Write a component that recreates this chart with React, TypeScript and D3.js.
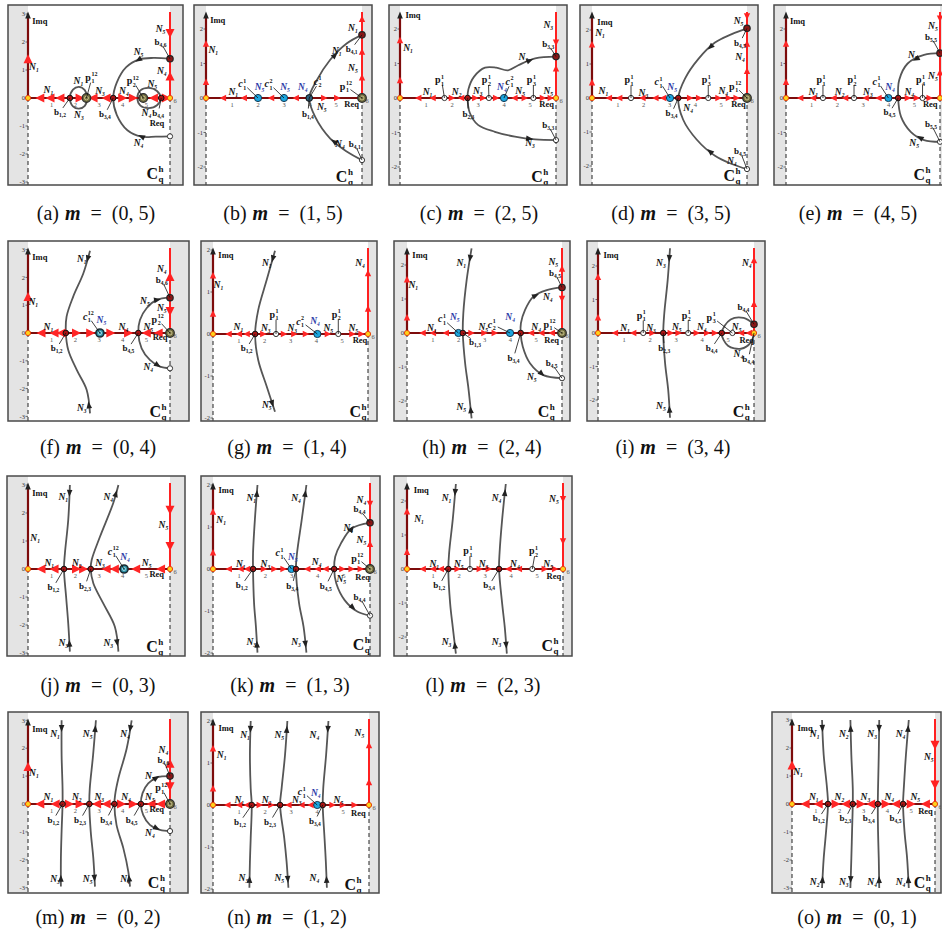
import React from 'react';
import * as d3 from 'd3';

type Pt = [number, number];
type Lab = (string | number)[];

// ---------- data (data coordinates: x = Re q, y = Im q) ----------
const CAPTION_LETTERS = ['(a)','(b)','(c)','(d)','(e)','(f)','(g)','(h)','(i)','(j)','(k)','(l)','(m)','(n)','(o)'];
const CAPTION_M1 = ['0','1','2','3','4','0','1','2','3','0','1','2','0','1','0'];
const CAPTION_M2 = ['5','5','5','5','5','4','4','4','4','3','3','3','2','2','1'];
const X_TICKS = [1, 2, 3, 4, 5];
const Y_TICKS_3 = [-3, -2, -1, 0, 1, 2, 3];
const Y_TICKS_2 = [-2, -1, 0, 1, 2];

// panel a
const A_im = [1.4];
const A_real: Pt[] = [[0.5,-1],[0.93,-1],[1.35,-1],[2.2,1],[2.75,-1],[3.3,-1],[4.0,1],[4.45,1],[5.3,-1],[5.85,1]];
const A_right: Pt[] = [[2.3,-1],[0.79,1]];
const A_curves: Pt[][] = [[[6,1.4],[5.3,1.43],[4.7,1.38],[4.15,1.1],[3.75,0.55],[3.6,0],[3.75,-0.6],[4.2,-1.15],[4.8,-1.38],[5.4,-1.38],[6,-1.37]]];
const A_loops: Pt[][] = [
  [[1.77,0],[1.9,0.3],[2.15,0.4],[2.4,0.28],[2.5,0],[2.4,-0.28],[2.15,-0.38],[1.9,-0.3]],
  [[4.62,0],[4.75,0.27],[5.1,0.36],[5.45,0.25],[5.6,0],[5.45,-0.26],[5.1,-0.36],[4.75,-0.27]],
];
const A_carrows: number[][] = [[0,0.2,1],[0,0.82,-1]];
const A_markers: Lab[] = [[0,0,'o'],[6,0,'o'],[1.77,0,'b'],[2.47,0,'pp'],[3.6,0,'b'],[4.87,0,'pp'],[5.63,0,'b'],[6,1.4,'bd'],[6,-1.37,'w']];
const A_labels: Lab[] = [
  [0.5,2.75,'Imq','','','T'],[0.25,1.1,'N','1','','N'],[0.86,0.28,'N','1','','N'],[1.35,-0.5,'b','1,2','','b',1.77,0],
  [2.13,0.62,'N','1','','N'],[2.15,-0.6,'N','3','','N'],[2.7,0.72,'p','1','12','p',2.47,0],[3.04,0.25,'N','3','','N'],
  [3.25,-0.58,'b','3,4','','b',3.6,0],[4.05,0.25,'N','4','','N'],[4.45,0.6,'p','2','12','p',4.87,0],[5.25,0.5,'N','5','','N'],
  [5.0,-0.55,'N','4','','N'],[5.5,-0.55,'b','4,4','','b',5.63,0],[5.45,-0.88,'Req','','','T'],[5.6,2.45,'N','5','','N'],
  [5.6,2.0,'b','4,6','','b',6,1.4],[5.65,0.97,'N','4','','N'],[4.67,1.65,'N','5','','N'],[4.67,-1.62,'N','4','','N'],
  [5.45,-2.7,'C','q','h','C'],
];

// panel b
const B_im = [0.47,1.58];
const B_real: Pt[] = [[0.65,-1],[1.45,-1],[2.5,-1],[3.45,-1],[4.55,1],[5.05,1]];
const B_right: Pt[] = [[2.3,1],[1.35,1],[0.6,1]];
const B_curves: Pt[][] = [[[6,1.83],[5.41,1.58],[4.77,1.1],[4.25,0.5],[3.97,0],[4.2,-0.55],[4.77,-1.17],[5.41,-1.55],[6,-1.8]]];
const B_carrows: number[][] = [[0,0.2,-1],[0,0.8,-1]];
const B_markers: Lab[] = [[0,0,'o'],[2,0,'c'],[3,0,'c'],[3.97,0,'cd'],[6,0,'pp'],[6,1.83,'bd'],[6,-1.8,'w']];
const B_labels: Lab[] = [
  [0.45,2.26,'Imq','','','T'],[0.28,1.39,'N','1','','N'],[1.05,0.16,'N','1','','N'],[1.45,0.4,'c','1','1','c',2,0],
  [2.06,0.31,'N','5','','NB'],[2.46,0.4,'c','1','2','c',3,0],[3.04,0.31,'N','5','','NB'],[3.72,0.31,'N','4','','NB'],
  [4.35,0.47,'c','2','1','c',3.97,0],[3.92,-0.45,'b','1,4','','b',3.97,0],[4.45,-0.25,'N','5','','N'],[5.03,1.36,'N','1','','N'],
  [5.15,-1.33,'N','4','','N'],[5.4,0.33,'p','1','12','p',6,0],[5.6,-0.17,'Req','','','T'],[5.65,2.02,'N','1','','N'],
  [5.6,1.43,'b','4,1','','b',6,1.83],[5.65,0.86,'N','5','','N'],[5.72,-1.33,'b','4,1','','b',6,-1.8],[5.4,-2.28,'C','q','h','C'],
];

// panel c
const C_im = [0.52,1.68];
const C_real: Pt[] = [[0.7,-1],[1.25,-1],[2.0,1],[2.35,-1],[2.9,1],[3.2,1],[3.7,1],[4.4,-1],[4.8,1],[5.5,1],[5.8,1]];
const C_right: Pt[] = [[1.6,-1],[0.86,1]];
const C_curves: Pt[][] = [[[6,1.2],[5.2,1.15],[4.55,0.95],[4.15,0.8],[3.7,0.88],[3.27,0.88],[2.85,0.62],[2.63,0.25],[2.6,0],[2.68,-0.42],[3.0,-0.78],[3.65,-0.98],[4.42,-1.12],[5.2,-1.2],[6,-1.22]]];
const C_carrows: number[][] = [[0,0.12,-1],[0,0.88,1]];
const C_markers: Lab[] = [[0,0,'o'],[1.71,0,'w'],[2.6,0,'b'],[3.42,0,'w'],[4.0,0,'c'],[5.13,0,'w'],[6,0,'o'],[6,1.2,'bd'],[6,-1.22,'w']];
const C_labels: Lab[] = [
  [0.5,2.4,'Imq','','','T'],[0.31,1.45,'N','1','','N'],[1.06,0.18,'N','1','','N'],[1.6,0.52,'p','1','1','p',1.71,0],
  [2.18,0.18,'N','2','','N'],[2.63,-0.45,'b','2,3','','b',2.6,0],[2.99,0.2,'N','3','','N'],[3.4,0.52,'p','2','1','p',3.42,0],
  [3.92,0.31,'N','4','','NB'],[4.27,0.47,'c','1','2','c',4.0,0],[4.62,0.2,'N','5','','N'],[5.13,0.52,'p','3','1','p',5.13,0],
  [5.7,0.2,'N','5','','N'],[5.64,-0.17,'Req','','','T'],[4.74,1.2,'N','3','','N'],[5.0,-1.3,'N','3','','N'],
  [5.7,2.12,'N','3','','N'],[5.7,1.56,'b','3,3','','b',6,1.2],[5.7,-0.78,'b','3,3','','b',6,-1.22],[5.45,-2.28,'C','q','h','C'],
];

// panel d
const D_im = [0.46,1.58];
const D_real: Pt[] = [[0.65,-1],[1.05,-1],[1.95,-1],[2.45,-1],[2.75,-1],[3.8,1],[4.15,1],[4.9,1],[5.3,1],[5.6,1]];
const D_right: Pt[] = [[2.4,-1],[1.6,1],[0.8,1]];
const D_curves: Pt[][] = [[[6,2.05],[5.41,1.88],[4.76,1.63],[4.12,1.15],[3.6,0.57],[3.34,0],[3.53,-0.64],[4.05,-1.22],[4.76,-1.7],[5.41,-1.94],[6,-2.09]]];
const D_carrows: number[][] = [[0,0.2,1],[0,0.8,-1]];
const D_markers: Lab[] = [[0,0,'o'],[1.51,0,'w'],[3.02,0,'c'],[3.34,0,'b'],[4.5,0,'w'],[6,0,'pp'],[6,2.05,'bd'],[6,-2.09,'w']];
const D_labels: Lab[] = [
  [0.5,2.24,'Imq','','','T'],[0.31,1.92,'N','1','','N'],[0.44,0.21,'N','1','','N'],[1.51,0.52,'p','1','1','p',1.51,0],
  [1.99,0.15,'N','3','','N'],[2.63,0.47,'c','1','1','c',3.02,0],[3.1,0.31,'N','5','','NB'],[3.08,-0.45,'b','3,4','','b',3.34,0],
  [3.72,-0.3,'N','4','','N'],[4.5,0.52,'p','3','1','p',4.5,0],[5.08,0.21,'N','4','','N'],[5.56,0.33,'p','1','12','p',6,0],
  [5.67,-0.17,'Req','','','T'],[5.67,2.26,'N','5','','N'],[5.73,1.63,'b','4,5','','b',6,2.05],[5.73,1.2,'N','4','','N'],
  [5.73,-1.56,'b','4,5','','b',6,-2.09],[5.41,-1.85,'N','4','','N'],[5.5,-2.28,'C','q','h','C'],
];

// panel e
const E_im = [0.47,1.58];
const E_real: Pt[] = [[0.55,-1],[1.05,-1],[1.85,-1],[2.3,-1],[3.1,-1],[3.6,-1],[4.75,1],[5.1,1],[5.6,1]];
const E_right: Pt[] = [[2.3,-1],[0.75,1]];
const E_curves: Pt[][] = [[[6,1.3],[5.38,1.25],[4.74,1.0],[4.41,0.52],[4.37,0],[4.48,-0.54],[4.86,-0.98],[5.38,-1.22],[6,-1.27]]];
const E_carrows: number[][] = [[0,0.18,1],[0,0.85,-1]];
const E_markers: Lab[] = [[0,0,'o'],[1.44,0,'w'],[2.65,0,'w'],[3.99,0,'c'],[4.37,0,'b'],[5.32,0,'w'],[6,0,'o'],[6,1.3,'bd'],[6,-1.27,'w']];
const E_labels: Lab[] = [
  [0.45,2.24,'Imq','','','T'],[1.06,0.18,'N','1','','N'],[1.44,0.52,'p','1','1','p',1.44,0],[2.09,0.18,'N','2','','N'],
  [2.65,0.52,'p','2','1','p',2.65,0],[3.19,0.18,'N','3','','N'],[3.58,0.47,'c','1','1','c',3.99,0],[4.05,0.31,'N','4','','NB'],
  [4.03,-0.42,'b','4,5','','b',4.37,0],[4.8,0.18,'N','4','','N'],[5.32,0.52,'p','4','1','p',5.32,0],[5.62,-0.17,'Req','','','T'],
  [4.94,1.25,'N','5','','N'],[5.72,0.64,'N','5','','N'],[5.65,1.78,'b','5,5','','b',6,1.3],[5.72,2.09,'N','5','','N'],
  [5.65,-0.75,'b','5,5','','b',6,-1.27],[4.99,-1.31,'N','5','','N'],[5.38,-2.23,'C','q','h','C'],
];

// panel f
const F_im = [1.31];
const F_real: Pt[] = [[0.55,-1],[1.1,-1],[1.4,-1],[2.05,1],[2.65,1],[3.5,1],[4.25,1],[5.0,-1],[5.5,-1]];
const F_right: Pt[] = [[2.03,1],[0.77,-1]];
const F_curves: Pt[][] = [
  [[2.62,2.96],[2.34,2.15],[1.91,1.31],[1.63,0.59],[1.6,0],[1.7,-0.61],[2.06,-1.33],[2.48,-2.05],[2.62,-2.89]],
  [[6,1.27],[5.44,1.19],[5.01,0.89],[4.73,0.47],[4.66,0],[4.8,-0.55],[5.15,-0.97],[5.58,-1.21],[6,-1.27]],
];
const F_carrows: number[][] = [[0,0.05,1],[0,0.95,-1],[1,0.12,-1],[1,0.88,1]];
const F_markers: Lab[] = [[0,0,'o'],[1.6,0,'b'],[3.04,0,'cc'],[4.66,0,'b'],[6,0,'pp'],[6,1.27,'bd'],[6,-1.27,'w']];
const F_labels: Lab[] = [
  [0.5,2.72,'Imq','','','T'],[0.22,1.13,'N','1','','N'],[0.86,0.23,'N','1','','N'],[1.21,-0.55,'b','1,2','','b',1.6,0],
  [2.27,2.65,'N','1','','N'],[2.27,-2.71,'N','3','','N'],[2.55,0.59,'c','1','12','c',3.04,0],[3.1,0.47,'N','5','','NB'],
  [4.03,0.23,'N','4','','N'],[4.24,-0.55,'b','4,5','','b',4.66,0],[5.08,0.23,'N','5','','N'],[5.5,0.47,'p','2','12','p',6,0],
  [5.58,-0.13,'Req','','','T'],[4.94,1.15,'N','5','','N'],[5.08,-1.21,'N','4','','N'],[5.65,2.29,'N','4','','N'],
  [5.65,1.91,'b','4,6','','b',6,1.27],[5.65,0.89,'N','5','','N'],[5.58,-2.83,'C','q','h','C'],
];

// panel g
const G_im = [0.49,1.4];
const G_real: Pt[] = [[0.6,-1],[1.0,-1],[1.3,-1],[1.95,1],[2.75,1],[3.15,1],[3.6,1],[4.45,1],[5.4,1],[5.75,1]];
const G_right: Pt[] = [[1.45,1],[0.61,1]];
const G_curves: Pt[][] = [[[2.4,1.98],[2.08,1.29],[1.75,0.57],[1.63,0],[1.75,-0.62],[2.08,-1.25],[2.4,-1.85]]];
const G_carrows: number[][] = [[0,0.05,1],[0,0.95,1]];
const G_markers: Lab[] = [[0,0,'o'],[1.63,0,'b'],[2.44,0,'w'],[4.04,0,'c'],[4.85,0,'w'],[6,0,'o']];
const G_labels: Lab[] = [
  [0.5,1.88,'Imq','','','T'],[0.21,1.17,'N','1','','N'],[2.08,1.68,'N','1','','N'],[2.08,-1.69,'N','5','','N'],
  [0.98,0.17,'N','1','','N'],[1.3,-0.34,'b','1,2','','b',1.63,0],[2.04,0.15,'N','3','','N'],[2.44,0.46,'p','1','1','p',2.44,0],
  [3.07,0.15,'N','3','','N'],[3.43,0.29,'c','1','2','c',4.04,0],[3.95,0.32,'N','4','','NB'],[4.46,0.15,'N','5','','N'],
  [4.85,0.46,'p','2','1','p',4.85,0],[5.43,0.15,'N','5','','N'],[5.69,-0.14,'Req','','','T'],[5.69,1.68,'N','4','','N'],
  [5.69,-1.85,'C','q','h','C'],
];

// panel h
const H_im = [0.46,1.58];
const H_real: Pt[] = [[0.6,-1],[1.0,-1],[1.5,-1],[2.5,1],[3.0,1],[3.4,1],[4.8,-1],[5.2,-1],[5.6,-1]];
const H_right: Pt[] = [[1.9,1],[1.0,-1]];
const H_curves: Pt[][] = [
  [[2.5,2.49],[2.31,1.56],[2.18,0.58],[2.16,0],[2.25,-0.89],[2.37,-1.58],[2.5,-2.51]],
  [[6,1.34],[5.41,1.26],[4.89,1.07],[4.57,0.68],[4.41,0.29],[4.4,0],[4.48,-0.4],[4.76,-0.89],[5.28,-1.24],[6,-1.33]],
];
const H_carrows: number[][] = [[0,0.06,1],[0,0.95,-1],[1,0.2,-1],[1,0.85,1]];
const H_markers: Lab[] = [[0,0,'o'],[1.99,0,'c'],[2.16,0,'b'],[3.99,0,'c'],[4.4,0,'b'],[6,0,'pp'],[6,1.34,'bd'],[6,-1.33,'w']];
const H_labels: Lab[] = [
  [0.5,2.29,'Imq','','','T'],[0.24,1.41,'N','1','','N'],[2.1,2.05,'N','1','','N'],[2.1,-2.17,'N','5','','N'],
  [0.96,0.15,'N','1','','N'],[1.41,0.4,'c','1','1','c',1.99,0],[1.85,0.46,'N','5','','NB'],[2.63,-0.25,'b','1,3','','b',2.16,0],
  [2.95,0.17,'N','5','','N'],[3.34,0.24,'c','2','1','c',3.99,0],[3.99,0.46,'N','4','','NB'],[4.12,-0.74,'b','3,4','','b',4.4,0],
  [5.0,0.17,'N','4','','N'],[5.54,0.24,'p','1','12','p',6,0],[5.6,-0.21,'Req','','','T'],[5.45,1.05,'N','4','','N'],
  [5.66,2.1,'N','5','','N'],[5.73,1.76,'b','4,5','','b',6,1.34],[5.6,-0.89,'b','4,5','','b',6,-1.33],[4.83,-1.28,'N','5','','N'],
  [5.47,-2.31,'C','q','h','C'],
];

// panel i
const I_im = [0.47,1.68];
const I_real: Pt[] = [[0.65,-1],[1.35,-1],[2.1,1],[2.8,1],[3.1,1],[3.8,1],[4.2,1],[4.5,1],[5.5,-1],[5.8,-1]];
const I_right: Pt[] = [[2.18,1],[0.87,1]];
const I_curves: Pt[][] = [
  [[2.77,2.53],[2.68,1.58],[2.55,0.59],[2.51,0],[2.58,-0.9],[2.7,-1.7],[2.77,-2.53]],
  [[6,0.26],[5.6,0.45],[5.1,0.4],[4.76,0],[5.0,-0.38],[5.5,-0.47],[5.88,-0.28],[6,0]],
];
const I_carrows: number[][] = [[0,0.06,1],[0,0.95,-1]];
const I_markers: Lab[] = [[0,0,'o'],[1.74,0,'w'],[2.51,0,'b'],[3.47,0,'w'],[4.76,0,'b'],[5.17,0,'w'],[6,0,'o'],[6,0.26,'bd']];
const I_labels: Lab[] = [
  [0.5,2.33,'Imq','','','T'],[1.04,0.15,'N','1','','N'],[1.74,0.52,'p','1','1','p',1.74,0],[2.04,0.15,'N','3','','N'],
  [2.55,-0.45,'b','2,3','','b',2.51,0],[2.42,2.08,'N','3','','N'],[2.42,-2.17,'N','5','','N'],[3.03,0.19,'N','5','','N'],
  [3.47,0.52,'p','2','1','p',3.47,0],[3.99,0.19,'N','4','','N'],[4.43,0.45,'p','3','1','p',5.17,0],[4.37,-0.45,'b','4,4','','b',4.76,0],
  [5.33,0.19,'N','5','','N'],[5.72,-0.21,'Req','','','T'],[5.4,-0.63,'N','4','','N'],[5.78,-0.78,'b','4,4','','b',6,0],
  [5.59,0.79,'b','4,4','','b',6,0.26],[5.72,2.08,'N','4','','N'],[5.59,-2.35,'C','q','h','C'],
];

// panel j
const J_im: number[] = [];
const J_real: Pt[] = [[0.55,-1],[1.1,-1],[2.05,1],[2.35,1],[3.3,-1],[3.65,-1],[4.55,-1],[5.6,-1]];
const J_right: Pt[] = [[2.1,-1],[0.8,-1]];
const J_curves: Pt[][] = [
  [[1.77,3.0],[1.7,1.75],[1.56,0.56],[1.52,0],[1.61,-0.99],[1.7,-1.94],[1.77,-2.95]],
  [[3.82,3.0],[3.6,2.35],[3.04,1.15],[2.69,0.32],[2.65,0],[2.76,-0.51],[3.18,-1.23],[3.67,-2.06],[3.82,-2.95]],
];
const J_carrows: number[][] = [[0,0.05,1],[0,0.95,-1],[1,0.05,-1],[1,0.95,1]];
const J_markers: Lab[] = [[0,0,'o'],[1.52,0,'b'],[2.65,0,'b'],[4.06,0,'cc'],[6,0,'o']];
const J_labels: Lab[] = [
  [0.5,2.7,'Imq','','','T'],[0.3,1.1,'N','1','','N'],[0.9,0.23,'N','1','','N'],[1.07,-0.65,'b','1,2','','b',1.52,0],
  [2.06,0.23,'N','2','','N'],[2.41,-0.61,'b','2,3','','b',2.65,0],[3.04,0.23,'N','3','','N'],[3.6,0.62,'c','1','12','c',4.06,0],
  [4.1,0.42,'N','4','','NB'],[5.01,0.23,'N','5','','N'],[5.44,-0.18,'Req','','','T'],[1.49,2.56,'N','1','','N'],
  [1.49,-2.65,'N','3','','N'],[3.39,2.56,'N','4','','N'],[3.39,-2.65,'N','3','','N'],[5.72,1.57,'N','5','','N'],
  [5.44,-2.77,'C','q','h','C'],
];

// panel k
const K_im = [0.4,1.37];
const K_real: Pt[] = [[0.6,-1],[1.05,-1],[1.3,-1],[1.95,1],[2.35,1],[2.7,1],[3.6,-1],[4.0,-1],[4.3,-1],[4.95,1],[5.3,1],[5.65,1]];
const K_right: Pt[] = [[1.55,-1],[0.6,1]];
const K_curves: Pt[][] = [
  [[1.7,2.0],[1.6,1.17],[1.53,0.37],[1.53,0],[1.57,-0.82],[1.64,-1.37],[1.7,-1.99]],
  [[3.57,2.0],[3.39,1.17],[3.21,0.37],[3.17,0],[3.29,-0.82],[3.46,-1.37],[3.57,-1.99]],
  [[6,1.1],[5.31,0.97],[4.89,0.61],[4.67,0.29],[4.63,0],[4.71,-0.34],[5.03,-0.74],[5.53,-1.02],[6,-1.11]],
];
const K_carrows: number[][] = [[0,0.05,-1],[0,0.95,-1],[1,0.05,-1],[1,0.95,1],[2,0.15,-1],[2,0.85,1]];
const K_markers: Lab[] = [[0,0,'o'],[1.53,0,'b'],[3.0,0,'c'],[3.17,0,'b'],[4.63,0,'b'],[6,0,'pp'],[6,1.1,'bd'],[6,-1.11,'w']];
const K_labels: Lab[] = [
  [0.5,1.87,'Imq','','','T'],[0.31,1.17,'N','1','','N'],[1.46,1.68,'N','1','','N'],[1.46,-1.73,'N','3','','N'],
  [3.17,1.68,'N','4','','N'],[3.17,-1.73,'N','3','','N'],[1.06,0.12,'N','1','','N'],[1.1,-0.38,'b','1,2','','b',1.53,0],
  [2.0,0.12,'N','3','','N'],[2.6,0.37,'c','1','1','c',3.0,0],[3.05,0.28,'N','5','','NB'],[3.03,-0.4,'b','3,4','','b',3.17,0],
  [3.96,0.17,'N','4','','N'],[4.31,-0.4,'b','4,5','','b',4.63,0],[4.9,-0.24,'N','5','','N'],[5.53,0.25,'p','1','12','p',6,0],
  [5.72,-0.19,'Req','','','T'],[5.17,0.97,'N','4','','N'],[5.67,1.64,'N','4','','N'],[5.6,1.42,'b','4,4','','b',6,1.1],
  [5.67,0.69,'N','5','','N'],[5.6,-0.66,'b','4,4','','b',6,-1.11],[5.74,-1.81,'C','q','h','C'],
];

// panel l
const L_im = [0.51,1.7];
const L_real: Pt[] = [[0.6,-1],[1.0,-1],[1.3,-1],[1.95,1],[2.8,1],[3.15,1],[3.9,-1],[4.3,-1],[5.3,1],[5.7,1]];
const L_right: Pt[] = [[2.05,-1],[0.81,-1]];
const L_curves: Pt[][] = [
  [[1.88,2.5],[1.76,1.46],[1.62,0.47],[1.59,0],[1.66,-1.02],[1.76,-1.71],[1.88,-2.49]],
  [[3.8,2.5],[3.66,1.46],[3.56,0.47],[3.54,0],[3.66,-1.02],[3.76,-1.71],[3.84,-2.49]],
];
const L_carrows: number[][] = [[0,0.05,1],[0,0.95,-1],[1,0.05,-1],[1,0.95,1]];
const L_markers: Lab[] = [[0,0,'o'],[1.59,0,'b'],[2.42,0,'w'],[3.54,0,'b'],[4.82,0,'w'],[6,0,'o']];
const L_labels: Lab[] = [
  [0.55,2.33,'Imq','','','T'],[0.46,1.46,'N','1','','N'],[1.52,2.1,'N','1','','N'],[1.52,-2.16,'N','3','','N'],
  [3.44,2.1,'N','4','','N'],[3.44,-2.16,'N','3','','N'],[1.05,0.15,'N','1','','N'],[1.24,-0.48,'b','1,2','','b',1.59,0],
  [1.99,0.15,'N','5','','N'],[2.42,0.52,'p','1','1','p',2.42,0],[2.94,0.15,'N','3','','N'],[3.16,-0.48,'b','3,4','','b',3.54,0],
  [4.15,0.15,'N','4','','N'],[4.94,0.52,'p','2','1','p',4.82,0],[5.43,0.15,'N','5','','N'],[5.65,-0.21,'Req','','','T'],
  [5.65,2.05,'N','5','','N'],[5.58,-2.26,'C','q','h','C'],
];

// panel m
const M_im = [1.34];
const M_real: Pt[] = [[0.5,-1],[1.15,-1],[1.75,1],[2.2,1],[2.9,-1],[3.3,-1],[3.95,1],[4.45,1],[5.2,-1],[5.6,-1]];
const M_right: Pt[] = [[1.46,1],[0.62,-1]];
const M_curves: Pt[][] = [
  [[1.42,3.0],[1.42,1.75],[1.46,0.56],[1.46,0],[1.42,-0.98],[1.39,-1.94],[1.39,-2.96]],
  [[2.87,3.0],[2.75,1.75],[2.61,0.56],[2.59,0],[2.65,-0.98],[2.76,-1.94],[2.83,-2.96]],
  [[4.38,3.0],[4.17,1.99],[3.82,0.92],[3.68,0.32],[3.65,0],[3.74,-0.75],[4.03,-1.59],[4.24,-2.43],[4.31,-2.96]],
  [[6,1.0],[5.44,0.95],[5.08,0.74],[4.84,0.39],[4.77,0],[4.87,-0.4],[5.15,-0.75],[5.58,-0.93],[6,-0.97]],
];
const M_carrows: number[][] = [[0,0.05,1],[0,0.95,-1],[1,0.05,-1],[1,0.95,1],[2,0.05,1],[2,0.95,-1],[3,0.15,-1],[3,0.85,1]];
const M_markers: Lab[] = [[0,0,'o'],[1.46,0,'b'],[2.59,0,'b'],[3.65,0,'b'],[4.77,0,'b'],[6,0,'pp'],[6,1.0,'bd'],[6,-0.97,'w']];
const M_labels: Lab[] = [
  [0.5,2.69,'Imq','','','T'],[0.25,1.1,'N','1','','N'],[1.14,2.5,'N','1','','N'],[1.14,-2.69,'N','3','','N'],
  [2.52,2.5,'N','5','','N'],[2.52,-2.69,'N','5','','N'],[4.1,2.5,'N','4','','N'],[4.1,-2.69,'N','4','','N'],
  [0.86,0.26,'N','1','','N'],[1.07,-0.57,'b','1,2','','b',1.46,0],[2.06,0.26,'N','2','','N'],[2.2,-0.57,'b','2,3','','b',2.59,0],
  [3.01,0.26,'N','3','','N'],[3.3,-0.57,'b','3,4','','b',3.65,0],[4.14,0.26,'N','4','','N'],[4.38,-0.57,'b','4,5','','b',4.77,0],
  [5.15,0.26,'N','5','','N'],[5.65,0.56,'p','1','12','p',6,0],[5.44,-0.18,'Req','','','T'],[5.15,1.0,'N','5','','N'],
  [5.15,-1.05,'N','4','','N'],[5.72,1.94,'N','4','','N'],[5.72,1.58,'b','4,6','','b',6,1.0],[5.51,-2.84,'C','q','h','C'],
];

// panel n
const N_im = [0.4,1.35];
const N_real: Pt[] = [[0.55,-1],[1.0,-1],[1.3,-1],[1.8,1],[2.25,1],[2.9,-1],[3.4,-1],[3.75,-1],[4.6,1],[5.0,1],[5.45,1]];
const N_right: Pt[] = [[1.43,1],[0.55,1]];
const N_curves: Pt[][] = [
  [[1.45,2.0],[1.42,1.19],[1.45,0.4],[1.49,0],[1.45,-0.79],[1.42,-1.35],[1.4,-1.97]],
  [[2.86,2.0],[2.77,1.19],[2.64,0.4],[2.58,0],[2.74,-0.79],[2.83,-1.35],[2.9,-1.97]],
  [[4.44,2.0],[4.35,1.19],[4.24,0.4],[4.22,0],[4.29,-0.79],[4.34,-1.35],[4.38,-1.97]],
];
const N_carrows: number[][] = [[0,0.05,1],[0,0.95,-1],[1,0.05,-1],[1,0.95,1],[2,0.05,1],[2,0.95,-1]];
const N_markers: Lab[] = [[0,0,'o'],[1.49,0,'b'],[2.58,0,'b'],[4.01,0,'c'],[4.22,0,'b'],[6,0,'o']];
const N_labels: Lab[] = [
  [0.5,1.83,'Imq','','','T'],[0.33,1.19,'N','1','','N'],[1.23,1.67,'N','1','','N'],[1.17,-1.73,'N','3','','N'],
  [2.55,1.67,'N','5','','N'],[2.55,-1.73,'N','5','','N'],[3.9,1.67,'N','4','','N'],[3.9,-1.73,'N','4','','N'],
  [1.01,0.12,'N','1','','N'],[1.04,-0.4,'b','1,2','','b',1.49,0],[2.06,0.12,'N','2','','N'],[2.19,-0.4,'b','2,3','','b',2.58,0],
  [3.22,0.12,'N','3','','N'],[3.47,0.3,'c','1','1','c',4.01,0],[3.95,0.28,'N','4','','NB'],[3.92,-0.38,'b','3,4','','b',4.22,0],
  [4.82,0.12,'N','5','','N'],[5.59,-0.2,'Req','','','T'],[5.63,1.71,'N','5','','N'],[5.46,-1.9,'C','q','h','C'],
];

// panel o
const O_im = [1.39];
const O_real: Pt[] = [[0.55,-1],[1.1,-1],[1.85,1],[2.25,-1],[2.9,1],[3.3,-1],[3.95,1],[4.35,-1],[5.0,1],[5.6,-1]];
const O_right: Pt[] = [[2.1,-1],[0.68,-1]];
const O_curves: Pt[][] = [
  [[1.26,3.0],[1.33,1.75],[1.47,0.56],[1.51,0],[1.43,-0.98],[1.33,-1.94],[1.26,-3.0]],
  [[2.45,3.0],[2.49,1.75],[2.55,0.56],[2.55,0],[2.52,-0.98],[2.49,-1.94],[2.45,-3.0]],
  [[3.66,3.0],[3.64,1.75],[3.61,0.56],[3.6,0],[3.61,-0.98],[3.64,-1.94],[3.66,-3.0]],
  [[4.9,3.0],[4.78,1.75],[4.69,0.56],[4.66,0],[4.72,-0.98],[4.83,-1.94],[4.9,-3.0]],
];
const O_carrows: number[][] = [[0,0.05,1],[0,0.95,-1],[1,0.05,-1],[1,0.95,1],[2,0.05,1],[2,0.95,-1],[3,0.05,-1],[3,0.95,-1]];
const O_markers: Lab[] = [[0,0,'o'],[1.51,0,'b'],[2.55,0,'b'],[3.6,0,'b'],[4.66,0,'b'],[6,0,'o']];
const O_labels: Lab[] = [
  [0.55,2.7,'Imq','','','T'],[0.25,1.15,'N','1','','N'],[0.95,2.49,'N','1','','N'],[0.95,-2.77,'N','2','','N'],
  [2.17,2.49,'N','2','','N'],[2.17,-2.77,'N','3','','N'],[3.36,2.49,'N','3','','N'],[3.36,-2.77,'N','4','','N'],
  [4.55,2.49,'N','4','','N'],[4.55,-2.77,'N','4','','N'],[0.91,0.26,'N','1','','N'],[1.12,-0.51,'b','1,2','','b',1.51,0],
  [1.99,0.26,'N','2','','N'],[2.24,-0.51,'b','2,3','','b',2.55,0],[3.08,0.26,'N','3','','N'],[3.22,-0.51,'b','3,4','','b',3.6,0],
  [4.08,0.26,'N','4','','N'],[4.34,-0.51,'b','4,5','','b',4.66,0],[5.17,0.26,'N','5','','N'],[5.6,-0.25,'Req','','','T'],
  [5.74,1.69,'N','5','','N'],[5.55,-2.83,'C','q','h','C'],
];

// ---------- layout (pixels) ----------
interface PanelDef {
  fr: number[]; ox: number; x6: number; y0: number; u: number; yt: number[]; big: boolean; cx: number; cy: number;
  im: number[]; real: Pt[]; right: Pt[]; curves: Pt[][]; loops?: Pt[][]; carrows: number[][]; markers: Lab[]; labels: Lab[];
}
const PANELS: PanelDef[] = [
  { fr:[8,183,5,185], ox:28, x6:170, y0:98, u:28, yt:Y_TICKS_3, big:true, cx:96, cy:220, im:A_im, real:A_real, right:A_right, curves:A_curves, loops:A_loops, carrows:A_carrows, markers:A_markers, labels:A_labels },
  { fr:[194,372,5,185], ox:206, x6:362, y0:98, u:34.5, yt:Y_TICKS_2, big:false, cx:283, cy:220, im:B_im, real:B_real, right:B_right, curves:B_curves, carrows:B_carrows, markers:B_markers, labels:B_labels },
  { fr:[389,567,5,185], ox:400, x6:556, y0:98, u:34.5, yt:Y_TICKS_2, big:false, cx:479, cy:220, im:C_im, real:C_real, right:C_right, curves:C_curves, carrows:C_carrows, markers:C_markers, labels:C_labels },
  { fr:[580,758,5,185], ox:592, x6:747, y0:98, u:34, yt:Y_TICKS_2, big:false, cx:671, cy:220, im:D_im, real:D_real, right:D_right, curves:D_curves, carrows:D_carrows, markers:D_markers, labels:D_labels },
  { fr:[774,958,5,185], ox:786, x6:940, y0:98, u:34.5, yt:Y_TICKS_2, big:false, cx:858, cy:220, im:E_im, real:E_real, right:E_right, curves:E_curves, carrows:E_carrows, markers:E_markers, labels:E_labels },
  { fr:[8,189,241,421], ox:28, x6:170, y0:333, u:27.8, yt:Y_TICKS_3, big:true, cx:98, cy:454, im:F_im, real:F_real, right:F_right, curves:F_curves, carrows:F_carrows, markers:F_markers, labels:F_labels },
  { fr:[201,377,241,421], ox:213, x6:368, y0:334, u:42, yt:Y_TICKS_2, big:false, cx:287, cy:454, im:G_im, real:G_real, right:G_right, curves:G_curves, carrows:G_carrows, markers:G_markers, labels:G_labels },
  { fr:[394,570,241,421], ox:407, x6:562, y0:333, u:34, yt:Y_TICKS_2, big:false, cx:482, cy:454, im:H_im, real:H_real, right:H_right, curves:H_curves, carrows:H_carrows, markers:H_markers, labels:H_labels },
  { fr:[587,765,241,421], ox:598, x6:754, y0:333, u:33.5, yt:Y_TICKS_2, big:false, cx:673, cy:454, im:I_im, real:I_real, right:I_right, curves:I_curves, carrows:I_carrows, markers:I_markers, labels:I_labels },
  { fr:[7,185,476,656], ox:28, x6:170, y0:569, u:28, yt:Y_TICKS_3, big:true, cx:98, cy:692, im:J_im, real:J_real, right:J_right, curves:J_curves, carrows:J_carrows, markers:J_markers, labels:J_labels },
  { fr:[201,380,476,656], ox:213, x6:370, y0:569, u:42, yt:Y_TICKS_2, big:false, cx:290, cy:692, im:K_im, real:K_real, right:K_right, curves:K_curves, carrows:K_carrows, markers:K_markers, labels:K_labels },
  { fr:[394,572,476,656], ox:407, x6:563, y0:569, u:34, yt:Y_TICKS_2, big:false, cx:483, cy:692, im:L_im, real:L_real, right:L_right, curves:L_curves, carrows:L_carrows, markers:L_markers, labels:L_labels },
  { fr:[8,188,712,893], ox:28, x6:170, y0:804, u:27.9, yt:Y_TICKS_3, big:true, cx:98, cy:924, im:M_im, real:M_real, right:M_right, curves:M_curves, carrows:M_carrows, markers:M_markers, labels:M_labels },
  { fr:[201,379,712,893], ox:213, x6:369, y0:805, u:42, yt:Y_TICKS_2, big:false, cx:287, cy:924, im:N_im, real:N_real, right:N_right, curves:N_curves, carrows:N_carrows, markers:N_markers, labels:N_labels },
  { fr:[772,941,712,893], ox:792, x6:935, y0:804, u:28, yt:Y_TICKS_3, big:true, cx:857, cy:924, im:O_im, real:O_real, right:O_right, curves:O_curves, carrows:O_carrows, markers:O_markers, labels:O_labels },
];

const SERIF = '"Liberation Serif", "DejaVu Serif", serif';

function tri(cx: number, cy: number, dx: number, dy: number, L: number, W: number) {
  const n = Math.hypot(dx, dy) || 1;
  const ux = dx / n, uy = dy / n;
  const px = -uy, py = ux;
  const tx = cx + ux * L / 2, ty = cy + uy * L / 2;
  const bx = cx - ux * L / 2, by = cy - uy * L / 2;
  return `M${tx},${ty}L${bx + px * W},${by + py * W}L${bx - px * W},${by - py * W}Z`;
}

function along(pts: Pt[], t: number) {
  const lens: number[] = [0];
  for (let i = 1; i < pts.length; i++) lens.push(lens[i - 1] + Math.hypot(pts[i][0] - pts[i - 1][0], pts[i][1] - pts[i - 1][1]));
  const target = lens[lens.length - 1] * t;
  let i = 1;
  while (i < pts.length - 1 && lens[i] < target) i++;
  const a = pts[i - 1], b = pts[i];
  const seg = lens[i] - lens[i - 1] || 1;
  const f = (target - lens[i - 1]) / seg;
  return { x: a[0] + (b[0] - a[0]) * f, y: a[1] + (b[1] - a[1]) * f, dx: b[0] - a[0], dy: b[1] - a[1] };
}

function Label({ l, sx, sy }: { l: Lab; sx: d3.ScaleLinear<number, number>; sy: d3.ScaleLinear<number, number> }) {
  const [x, y, text, sub, sup, style, tx, ty] = l as [number, number, string, string, string, string, number?, number?];
  const px = sx(x), py = sy(y);
  let leader = null;
  if (tx !== undefined && ty !== undefined) {
    const qx = sx(tx), qy = sy(ty);
    const d = Math.hypot(qx - px, qy - py) || 1;
    const off = Math.min(5, d * 0.4);
    leader = <line x1={px + (qx - px) / d * off} y1={py + (qy - py) / d * off} x2={qx} y2={qy} stroke="#111" strokeWidth={0.8} />;
  }
  let body: React.ReactNode = null;
  if (style === 'T') {
    body = <text x={px} y={py + 3} textAnchor="middle" fontSize={8.5} fontWeight="bold" fontFamily={SERIF} fill="#111">{text}</text>;
  } else if (style === 'N' || style === 'NB') {
    body = (
      <text x={px} y={py + 3} textAnchor="middle" fontFamily={SERIF} fontWeight="bold" fontStyle="italic" fill={style === 'NB' ? '#2b3aa8' : '#111'}>
        <tspan fontSize={9.5}>N</tspan><tspan fontSize={5.5} dy={2}>{sub}</tspan>
      </text>
    );
  } else if (style === 'b') {
    body = (
      <text x={px} y={py + 3} textAnchor="middle" fontFamily={SERIF} fontWeight="bold" fill="#111">
        <tspan fontSize={9}>b</tspan><tspan fontSize={5.5} dy={2}>{sub}</tspan>
      </text>
    );
  } else if (style === 'p' || style === 'c') {
    body = (
      <g fontFamily={SERIF} fontWeight="bold" fill="#111">
        <text x={px - 1} y={py + 3} textAnchor="end" fontSize={10} fontStyle={style === 'c' ? 'italic' : 'normal'}>{text}</text>
        <text x={px - 0.5} y={py - 1.5} fontSize={6}>{sup}</text>
        <text x={px - 0.5} y={py + 5.5} fontSize={6}>{sub}</text>
      </g>
    );
  } else if (style === 'C') {
    body = (
      <g fontFamily={SERIF} fontWeight="bold" fill="#111">
        <text x={px + 1} y={py + 5} textAnchor="end" fontSize={16}>C</text>
        <text x={px + 1.5} y={py - 2} fontSize={9}>{sup}</text>
        <text x={px + 1.5} y={py + 8} fontSize={9}>{sub}</text>
      </g>
    );
  }
  return <g>{leader}{body}</g>;
}

function Marker({ m, sx, sy }: { m: Lab; sx: d3.ScaleLinear<number, number>; sy: d3.ScaleLinear<number, number> }) {
  const [x, y, k] = m as [number, number, string];
  const cx = sx(x), cy = sy(y);
  switch (k) {
    case 'o': return <circle cx={cx} cy={cy} r={2.6} fill="#ffd21a" stroke="#e5400c" strokeWidth={1} />;
    case 'b': return <circle cx={cx} cy={cy} r={2.8} fill="#a81414" stroke="#111" strokeWidth={1} />;
    case 'bd': return <circle cx={cx} cy={cy} r={3.2} fill="#8a1616" stroke="#222" strokeWidth={1.2} />;
    case 'w': return <circle cx={cx} cy={cy} r={2.6} fill="#fff" stroke="#333" strokeWidth={1} />;
    case 'c': return <circle cx={cx} cy={cy} r={3.6} fill="#1ba6e0" stroke="#123a55" strokeWidth={1} />;
    case 'cd': return <circle cx={cx} cy={cy} r={3.4} fill="#2c5f7c" stroke="#111" strokeWidth={1} />;
    case 'cc': return <g><circle cx={cx} cy={cy} r={4} fill="#2b8ea3" stroke="#1b2b33" strokeWidth={1.6} /><circle cx={cx} cy={cy} r={1.7} fill="none" stroke="#bfeaf2" strokeWidth={0.7} /></g>;
    case 'pp': return <g><circle cx={cx} cy={cy} r={4.3} fill="#6f6b3b" stroke="#2a2a2a" strokeWidth={1.2} /><circle cx={cx} cy={cy} r={2} fill="none" stroke="#d9d2a0" strokeWidth={0.8} /></g>;
    default: return null;
  }
}

function Panel({ p, idx }: { p: PanelDef; idx: number }) {
  const [x0, x1, y0f, y1f] = p.fr;
  const sx = d3.scaleLinear().domain([0, 6]).range([p.ox, p.x6]);
  const sy = d3.scaleLinear().domain([0, 1]).range([p.y0, p.y0 - p.u]);
  const line = d3.line<Pt>().x(d => sx(d[0])).y(d => sy(d[1])).curve(d3.curveCatmullRom.alpha(0.5));
  const loopLine = d3.line<Pt>().x(d => sx(d[0])).y(d => sy(d[1])).curve(d3.curveCatmullRomClosed.alpha(0.5));
  const L = p.big ? 9 : 6.5, W = p.big ? 4.5 : 3.2;
  const topY = y0f + 7;
  const clipId = `clip${idx}`;
  return (
    <g>
      <defs><clipPath id={clipId}><rect x={x0} y={y0f} width={x1 - x0} height={y1f - y0f} /></clipPath></defs>
      <g clipPath={`url(#${clipId})`}>
        <rect x={x0} y={y0f} width={x1 - x0} height={y1f - y0f} fill="#fff" />
        <rect x={x0} y={y0f} width={p.ox - x0} height={y1f - y0f} fill="#e4e4e4" />
        <rect x={p.x6} y={y0f} width={x1 - p.x6} height={y1f - y0f} fill="#e4e4e4" />
        <line x1={sx(0)} x2={sx(0)} y1={p.y0} y2={y1f} stroke="#222" strokeWidth={1} strokeDasharray="4,3" />
        <line x1={sx(6)} x2={sx(6)} y1={p.y0} y2={y1f} stroke="#222" strokeWidth={1} strokeDasharray="4,3" />
        {p.yt.map(v => (
          <g key={'yt' + v}>
            <line x1={sx(0) - 2.5} x2={sx(0)} y1={sy(v)} y2={sy(v)} stroke="#333" strokeWidth={0.7} />
            <text x={sx(0) - 3} y={sy(v) + 2.2} textAnchor="end" fontSize={6.5} fontFamily={SERIF} fill="#333">{v}</text>
          </g>
        ))}
        {X_TICKS.map(v => (
          <text key={'xt' + v} x={sx(v)} y={p.y0 + 9} textAnchor="middle" fontSize={6.5} fontFamily={SERIF} fill="#555">{v}</text>
        ))}
        <text x={sx(6) + 5} y={p.y0 + 5} textAnchor="middle" fontSize={6.5} fontFamily={SERIF} fill="#555">6</text>
        {p.curves.map((c, i) => <path key={'c' + i} d={line(c) || ''} fill="none" stroke="#565656" strokeWidth={1.8} />)}
        {(p.loops || []).map((c, i) => <path key={'lp' + i} d={loopLine(c) || ''} fill="none" stroke="#565656" strokeWidth={1.8} />)}
        {p.carrows.map((a, i) => {
          const c = p.curves[a[0]];
          const pts: Pt[] = c.map(d => [sx(d[0]), sy(d[1])]);
          const q = along(pts, a[1]);
          return <path key={'ca' + i} d={tri(q.x, q.y, q.dx * a[2], q.dy * a[2], 7, 2.8)} fill="#222" />;
        })}
        <line x1={sx(0)} x2={sx(0)} y1={p.y0} y2={topY + 4} stroke="#7d0c0c" strokeWidth={2.2} />
        <path d={tri(sx(0), topY + 3, 0, -1, 7, 2.8)} fill="#222" />
        {p.im.map((v, i) => <path key={'im' + i} d={tri(sx(0), sy(v), 0, -1, L, W)} fill="#ff2626" />)}
        <line x1={sx(6)} x2={sx(6)} y1={p.y0} y2={topY} stroke="#ff2020" strokeWidth={2} />
        {p.right.map((r, i) => <path key={'rt' + i} d={tri(sx(6), sy(r[0]), 0, -r[1], L, W)} fill="#ff2020" />)}
        <line x1={sx(0)} x2={sx(6)} y1={p.y0} y2={p.y0} stroke="#7d0c0c" strokeWidth={2.2} />
        {p.real.map((r, i) => <path key={'re' + i} d={tri(sx(r[0]), p.y0, r[1], 0, L, W)} fill="#ff2626" />)}
        {p.markers.map((m, i) => <Marker key={'m' + i} m={m} sx={sx} sy={sy} />)}
        {p.labels.map((l, i) => <Label key={'l' + i} l={l} sx={sx} sy={sy} />)}
      </g>
      <rect x={x0} y={y0f} width={x1 - x0} height={y1f - y0f} fill="none" stroke="#4a4a4a" strokeWidth={1.5} />
      <text x={p.cx} y={p.cy} textAnchor="middle" fontSize={20} fontFamily={SERIF} fill="#111">
        <tspan>{CAPTION_LETTERS[idx]}</tspan>
        <tspan dx={6} fontWeight="bold" fontStyle="italic">m</tspan>
        <tspan dx={10}>=</tspan>
        <tspan dx={10}>{'(' + CAPTION_M1[idx] + ','}</tspan>
        <tspan dx={5}>{CAPTION_M2[idx] + ')'}</tspan>
      </text>
    </g>
  );
}

export default function App() {
  return (
    <div style={{ position: 'absolute', left: 0, top: 0, width: 942, height: 935, overflow: 'hidden', background: '#fff' }}>
      <svg width={942} height={935} viewBox="0 0 942 935" style={{ display: 'block' }}>
        <rect width={942} height={935} fill="#fff" />
        {PANELS.map((p, i) => <Panel key={i} p={p} idx={i} />)}
      </svg>
    </div>
  );
}
